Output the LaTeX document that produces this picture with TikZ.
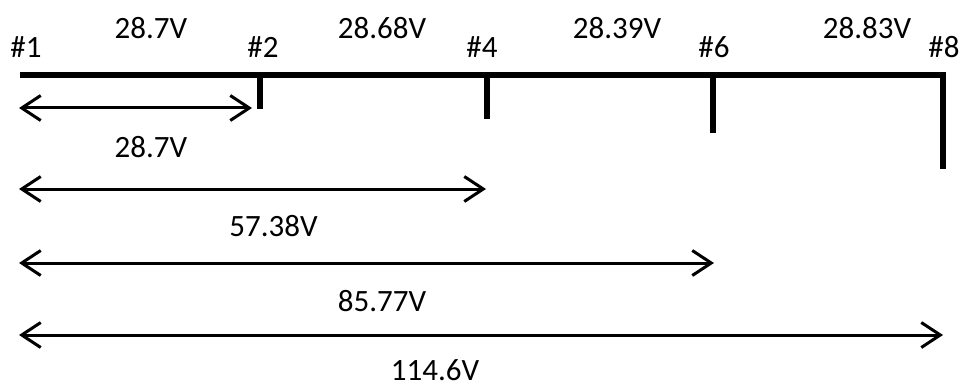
\documentclass[tikz,border=0pt]{standalone}
\usepackage{fontspec}
\setmainfont{Carlito}
\usetikzlibrary{arrows.meta}
\begin{document}
\begin{tikzpicture}[x=1pt,y=-1pt,
  bus/.style={line width=6pt,line join=miter},
  tick/.style={line width=6pt},
  meas/.style={line width=3pt,{Straight Barb[length=19pt,width=25pt,line width=3pt]}-{Straight Barb[length=19pt,width=25pt,line width=3pt]}},
  lbl/.style={font=\fontsize{31}{33}\selectfont,inner sep=0pt,anchor=center}]
\useasboundingbox (0,0) rectangle (960,385);
% bus
\coordinate (b1) at (20,75);
\coordinate (b2) at (260,75);
\coordinate (b4) at (487,75);
\coordinate (b6) at (713,75);
\coordinate (b8) at (943,75);
\coordinate (t2) at (260,109);
\coordinate (t4) at (487,119);
\coordinate (t6) at (713,133);
\coordinate (t8) at (943,169);
\draw[bus] (b1) -- (b8) -- (t8);
\draw[tick] (b2) -- (t2);
\draw[tick] (b4) -- (t4);
\draw[tick] (b6) -- (t6);
% labels top
\node[lbl] (n1) at (26,47.5) {\#1};
\node[lbl] (n2) at (263,47.5) {\#2};
\node[lbl] (n4) at (482,47.5) {\#4};
\node[lbl] (n6) at (714,47.5) {\#6};
\node[lbl] (n8) at (944,47.5) {\#8};
\node[lbl] (v12) at (151,28.5) {28.7V};
\node[lbl] (v24) at (382,28.5) {28.68V};
\node[lbl] (v46) at (617,28.5) {28.39V};
\node[lbl] (v68) at (867,28.5) {28.83V};
% measurement arrows
\coordinate (a1l) at (19,108);
\coordinate (a1r) at (252,108);
\coordinate (a2l) at (19,189);
\coordinate (a2r) at (486,189);
\coordinate (a3l) at (19,263);
\coordinate (a3r) at (714,263);
\coordinate (a4l) at (19,335);
\coordinate (a4r) at (943,335);
\draw[meas] (a1l) -- (a1r);
\draw[meas] (a2l) -- (a2r);
\draw[meas] (a3l) -- (a3r);
\draw[meas] (a4l) -- (a4r);
\node[lbl] (m1) at (151,147.5) {28.7V};
\node[lbl] (m2) at (273.5,226) {57.38V};
\node[lbl] (m3) at (382,301) {85.77V};
\node[lbl] (m4) at (435,370) {114.6V};
\end{tikzpicture}
\end{document}
